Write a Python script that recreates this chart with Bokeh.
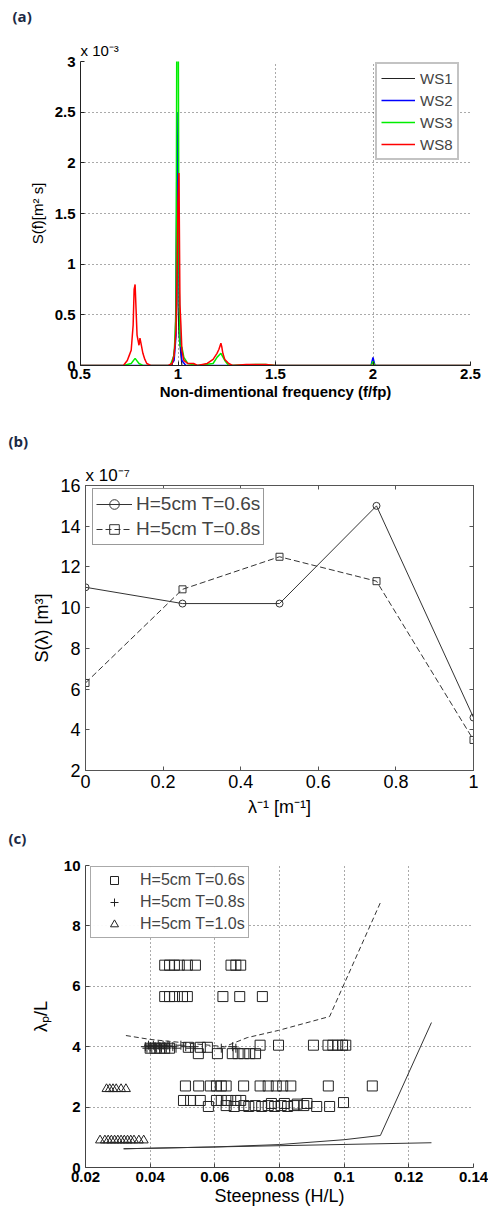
from bokeh.plotting import figure
from bokeh.models import Range1d, FixedTicker, Label, LinearAxis, CustomJSTickFormatter
from bokeh.embed import file_html
from bokeh.resources import INLINE

FONT = "Liberation Sans"
PANEL_FONT = "Open Sans"

# ---------------- Panel (a): spectra, S(f) in units of 1e-3 m^2 s ----------------
a_xticks = [0.5, 1.0, 1.5, 2.0, 2.5]
a_xlabels = ["0.5", "1", "1.5", "2", "2.5"]
a_yticks = [0, 0.5, 1.0, 1.5, 2.0, 2.5, 3.0]
a_ylabels = ["0", "0.5", "1", "1.5", "2", "2.5", "3"]

ws1_f = [0.50, 0.97, 0.985, 0.99, 0.995, 1.000, 1.005, 1.02, 1.99, 2.00, 2.01, 2.50]
ws1_s = [0.00, 0.00, 0.20, 0.80, 2.05, 0.60, 0.30, 0.00, 0.00, 0.03, 0.00, 0.00]

ws2_f = [0.50, 0.96, 0.98, 0.99, 0.995, 1.000, 1.005, 1.01, 1.02, 1.04, 1.99, 2.00, 2.01, 2.50]
ws2_s = [0.00, 0.00, 0.05, 0.30, 2.50, 1.40, 0.90, 0.30, 0.05, 0.00, 0.00, 0.08, 0.00, 0.00]

ws3_f = [0.50, 0.72, 0.76, 0.78, 0.80, 0.82, 0.96, 0.98, 0.99, 0.995, 1.000, 1.005, 1.01,
         1.02, 1.03, 1.05, 1.10, 1.18, 1.20, 1.22, 1.24, 1.26, 1.40, 1.45, 1.50, 1.99, 2.00, 2.01, 2.50]
ws3_s = [0.00, 0.00, 0.02, 0.07, 0.02, 0.00, 0.00, 0.10, 0.50, 4.20, 4.20, 1.00, 0.20,
         0.18, 0.08, 0.02, 0.00, 0.02, 0.08, 0.12, 0.05, 0.00, 0.01, 0.01, 0.00, 0.00, 0.04, 0.00, 0.00]

ws8_f = [0.50, 0.72, 0.74, 0.75, 0.76, 0.77, 0.775, 0.78, 0.785, 0.79, 0.80, 0.805, 0.81, 0.82,
         0.83, 0.84, 0.86, 0.95, 0.97, 0.98, 0.99, 0.995, 1.000, 1.005, 1.01, 1.015, 1.02, 1.03,
         1.05, 1.08, 1.10, 1.15, 1.18, 1.20, 1.21, 1.22, 1.225, 1.23, 1.24, 1.26, 1.28, 1.35,
         1.45, 1.50, 2.50]
ws8_s = [0.00, 0.00, 0.05, 0.10, 0.15, 0.40, 0.75, 0.80, 0.55, 0.30, 0.20, 0.27, 0.22, 0.12,
         0.06, 0.02, 0.00, 0.00, 0.02, 0.10, 0.35, 0.90, 1.60, 1.90, 0.60, 0.40, 0.15, 0.05,
         0.02, 0.02, 0.00, 0.02, 0.06, 0.12, 0.16, 0.22, 0.18, 0.12, 0.06, 0.02, 0.00, 0.01,
         0.01, 0.00, 0.00]

# ---------------- Panel (b): S(lambda) in units of 1e-7 m^3 ----------------
b_x = [0.0, 0.25, 0.5, 0.75, 1.0]
b_t06 = [11.0, 10.2, 10.2, 15.0, 4.6]
b_t08 = [6.3, 10.9, 12.5, 11.3, 3.5]
b_xticks = [0, 0.2, 0.4, 0.6, 0.8, 1.0]
b_xlabels = ["0", "0.2", "0.4", "0.6", "0.8", "1"]
b_yticks = [2, 4, 6, 8, 10, 12, 14, 16]
b_ylabels = ["2", "4", "6", "8", "10", "12", "14", "16"]

# ---------------- Panel (c): lambda_p/L vs steepness ----------------
c_xticks = [0.02, 0.04, 0.06, 0.08, 0.10, 0.12, 0.14]
c_xlabels = ["0.02", "0.04", "0.06", "0.08", "0.1", "0.12", "0.14"]
c_yticks = [0, 2, 4, 6, 8, 10]
c_ylabels = ["0", "2", "4", "6", "8", "10"]

sq_x = [0.0445, 0.046, 0.0475, 0.049, 0.0515, 0.054, 0.065, 0.0665, 0.068,
        0.0445, 0.046, 0.0475, 0.050, 0.0515, 0.0625, 0.0677, 0.0747,
        0.040, 0.0415, 0.043, 0.0445, 0.046, 0.0518, 0.0555, 0.0577,
        0.074, 0.0797, 0.0905, 0.095, 0.0965, 0.098, 0.0995, 0.1005,
        0.0549, 0.0608, 0.0654, 0.0672, 0.069, 0.0708, 0.0726,
        0.0509, 0.055, 0.0586, 0.0605, 0.062, 0.0635, 0.0689, 0.074, 0.0765, 0.079, 0.081, 0.0835, 0.0951, 0.1087,
        0.0503, 0.0525, 0.0555, 0.0605, 0.062, 0.064, 0.0665, 0.068,
        0.058, 0.0635, 0.066, 0.069, 0.0705, 0.0725, 0.0745, 0.0765, 0.0785, 0.0805, 0.0825, 0.0845, 0.0875, 0.0915, 0.0955,
        0.0775, 0.0815, 0.0855, 0.0885, 0.0998]
sq_y = [6.7, 6.7, 6.7, 6.7, 6.7, 6.7, 6.7, 6.7, 6.7,
        5.66, 5.66, 5.66, 5.66, 5.66, 5.66, 5.66, 5.66,
        3.95, 3.95, 3.95, 3.95, 3.95, 3.98, 3.98, 3.98,
        4.05, 4.05, 4.05, 4.05, 4.05, 4.05, 4.05, 4.05,
        3.77, 3.77, 3.77, 3.77, 3.77, 3.77, 3.77,
        2.7, 2.7, 2.7, 2.7, 2.7, 2.7, 2.7, 2.7, 2.7, 2.7, 2.7, 2.7, 2.7, 2.7,
        2.22, 2.22, 2.22, 2.22, 2.22, 2.22, 2.22, 2.22,
        2.02, 2.05, 2.02, 2.05, 2.02, 2.05, 2.02, 2.05, 2.02, 2.05, 2.02, 2.05, 2.05, 2.02, 2.02,
        2.12, 2.12, 2.1, 2.12, 2.15]

plus_x = [0.0385, 0.039, 0.0395, 0.040, 0.0405, 0.041, 0.0415, 0.042, 0.0425, 0.043, 0.0435,
          0.044, 0.0445, 0.045, 0.0455, 0.046, 0.047, 0.048, 0.0495, 0.051, 0.0525, 0.0535,
          0.062, 0.0655, 0.0665]
plus_y = [4.0, 3.95, 4.05, 4.0, 3.95, 4.05, 4.0, 3.95, 4.05, 4.0, 3.95,
          4.05, 4.0, 3.95, 4.05, 4.0, 4.0, 3.95, 4.05, 4.0, 3.95, 4.0,
          3.95, 4.0, 3.95]

tri_x = [0.0265, 0.0275, 0.0285, 0.0295, 0.031, 0.0325,
         0.0245, 0.026, 0.027, 0.028, 0.029, 0.030, 0.031, 0.032, 0.033, 0.034, 0.035, 0.0365, 0.038]
tri_y = [2.6, 2.6, 2.6, 2.6, 2.6, 2.6,
         0.9, 0.9, 0.9, 0.9, 0.9, 0.9, 0.9, 0.9, 0.9, 0.9, 0.9, 0.9, 0.9]

dash_x = [0.0325, 0.040, 0.063, 0.070, 0.0797, 0.0955, 0.1112]
dash_y = [4.37, 4.24, 4.00, 4.30, 4.54, 5.00, 8.77]

solid1_x = [0.0318, 0.060, 0.127]
solid1_y = [0.62, 0.68, 0.82]
solid2_x = [0.0318, 0.060, 0.080, 0.100, 0.1112, 0.127]
solid2_y = [0.62, 0.68, 0.76, 0.92, 1.06, 4.80]


def style_axes(p, xticks, xlabels, yticks, ylabels, tick_size, bold, axis_color):
    p.xaxis.ticker = FixedTicker(ticks=xticks)
    p.yaxis.ticker = FixedTicker(ticks=yticks)
    p.xaxis.major_label_overrides = {t: l for t, l in zip(xticks, xlabels)}
    p.yaxis.major_label_overrides = {t: l for t, l in zip(yticks, ylabels)}
    for ax in (p.xaxis[0], p.yaxis[0]):
        ax.major_label_text_font = FONT
        ax.major_label_text_font_size = tick_size
        ax.major_label_text_font_style = "bold" if bold else "normal"
        ax.major_label_text_color = "black"
        ax.axis_label_text_font = FONT
        ax.axis_label_text_font_style = "normal"
        ax.axis_label_text_color = "black"
        ax.axis_line_color = axis_color
        ax.major_tick_line_color = axis_color
        ax.major_tick_in = 4
        ax.major_tick_out = 0
        ax.minor_tick_in = 0
        ax.minor_tick_out = 0


def exponent_title(p, text, size, standoff):
    p.title.text = text
    p.title.align = "left"
    p.title.offset = 0
    p.title.vertical_align = "bottom"
    p.title.standoff = standoff
    p.title.text_font = FONT
    p.title.text_font_style = "normal"
    p.title.text_font_size = size
    p.title.text_color = "black"


def header(height):
    h = figure(width=488, height=height, output_backend="svg", toolbar_location=None,
               x_range=Range1d(0, 488), y_range=Range1d(height, 0),
               x_axis_type=None, y_axis_type=None)
    h.min_border = 0
    h.min_border_left = 0
    h.min_border_right = 0
    h.min_border_top = 0
    h.min_border_bottom = 0
    h.outline_line_color = None
    return h


def panel_tag(h, text, x, y):
    h.add_layout(Label(x=x, y=y, text=text, text_font=PANEL_FONT, text_font_style="bold",
                       text_font_size="15px", text_color="#1c2a45",
                       text_baseline="middle", text_align="left"))


# ======================= header (a) =======================
ha = header(36)
panel_tag(ha, "(a)", 12, 15)

# ======================= (a) =======================
pa = figure(width=488, height=384, output_backend="svg", toolbar_location=None,
            x_range=Range1d(0.5, 2.5), y_range=Range1d(0, 3))
pa.min_border = 0
pa.min_border_left = 80
pa.min_border_right = 18
pa.min_border_top = 25
pa.min_border_bottom = 55
pa.outline_line_color = None
exponent_title(pa, "x 10⁻³", "15px", 6)
style_axes(pa, a_xticks, a_xlabels, a_yticks, a_ylabels, "15px", True, "#222222")
pa.xaxis.axis_label = "Non-dimentional frequency (f/fp)"
pa.xaxis.axis_label_text_font_size = "15px"
pa.xaxis.axis_label_text_font_style = "bold"
pa.xaxis.major_label_standoff = 3
pa.xaxis.axis_label_standoff = 1
pa.yaxis.axis_label = "S(f)[m² s]"
pa.yaxis.axis_label_text_font_size = "15px"
pa.yaxis.major_label_standoff = 5
pa.yaxis.axis_label_standoff = 6
for g in (pa.xgrid, pa.ygrid):
    g.grid_line_color = "#555555"
    g.grid_line_dash = "1 3"
    g.grid_line_width = 1

pa.line(ws1_f, ws1_s, line_color="#222222", line_width=1.2, legend_label="WS1")
pa.line(ws2_f, ws2_s, line_color="#0000ff", line_width=1.5, legend_label="WS2")
pa.line(ws3_f, ws3_s, line_color="#00ee00", line_width=1.5, legend_label="WS3")
pa.line(ws8_f, ws8_s, line_color="#ff0000", line_width=1.5, legend_label="WS8")
lg = pa.legend[0]
lg.location = (295, 205)
lg.margin = 0
lg.padding = 4
lg.spacing = 2
lg.glyph_width = 34
lg.glyph_height = 20
lg.label_height = 20
lg.label_standoff = 5
lg.label_text_font = FONT
lg.label_text_font_size = "15px"
lg.border_line_color = "#888888"
lg.border_line_width = 2
lg.background_fill_alpha = 1

# ======================= header (b) =======================
hb = header(35)
panel_tag(hb, "(b)", 8, 20)

# ======================= (b) =======================
pb = figure(width=488, height=371, output_backend="svg", toolbar_location=None,
            x_range=Range1d(0, 1), y_range=Range1d(2, 16))
pb.min_border = 0
pb.min_border_left = 85
pb.min_border_right = 15
pb.min_border_top = 30
pb.min_border_bottom = 56
pb.outline_line_color = "#555555"
pb.xgrid.visible = False
pb.ygrid.visible = False
style_axes(pb, b_xticks, b_xlabels, b_yticks, b_ylabels, "18px", False, "#555555")
pb.xaxis.axis_label = "λ⁻¹ [m⁻¹]"
pb.xaxis.axis_label_text_font_size = "18px"
pb.xaxis.major_label_standoff = 4
pb.xaxis.axis_label_standoff = 6
pb.yaxis.axis_label = "S(λ) [m³]"
pb.yaxis.axis_label_text_font_size = "18px"
pb.yaxis.major_label_standoff = 5
pb.yaxis.axis_label_standoff = 5
blank = CustomJSTickFormatter(code="return ''")
rax = LinearAxis(ticker=FixedTicker(ticks=b_yticks), formatter=blank, major_tick_in=4,
                 major_tick_out=0, minor_tick_in=0, minor_tick_out=0, major_label_standoff=0,
                 major_label_text_font_size="0px",
                 axis_line_color="#555555", major_tick_line_color="#555555")
tax = LinearAxis(ticker=FixedTicker(ticks=b_xticks), formatter=blank, major_tick_in=4,
                 major_tick_out=0, minor_tick_in=0, minor_tick_out=0, major_label_standoff=0,
                 major_label_text_font_size="0px",
                 axis_line_color="#555555", major_tick_line_color="#555555")
pb.add_layout(rax, "right")
pb.add_layout(tax, "above")
exponent_title(pb, "x 10⁻⁷", "17px", 2)

pb.line(b_x, b_t06, line_color="#333333", line_width=1, legend_label="H=5cm T=0.6s")
pb.scatter(b_x, b_t06, marker="circle", size=7, fill_color=None, line_color="#333333",
           legend_label="H=5cm T=0.6s")
pb.line(b_x, b_t08, line_color="#333333", line_width=1, line_dash="6 3", legend_label="H=5cm T=0.8s")
pb.scatter(b_x, b_t08, marker="square", size=7, fill_color=None, line_color="#333333",
           legend_label="H=5cm T=0.8s")
lg = pb.legend[0]
lg.location = (7, 225)
lg.margin = 0
lg.padding = 3
lg.spacing = 1
lg.glyph_width = 36
lg.glyph_height = 24
lg.label_height = 24
lg.label_standoff = 4
lg.label_text_font = FONT
lg.label_text_font_size = "19px"
lg.border_line_color = "#333333"
lg.border_line_width = 1

# ======================= header (c) =======================
hc = header(24)
panel_tag(hc, "(c)", 8, 11)

# ======================= (c) =======================
pc = figure(width=488, height=365, output_backend="svg", toolbar_location=None,
            x_range=Range1d(0.02, 0.14), y_range=Range1d(0, 10))
pc.min_border = 0
pc.min_border_left = 85
pc.min_border_right = 15
pc.min_border_top = 15
pc.min_border_bottom = 48
pc.outline_line_color = None
style_axes(pc, c_xticks, c_xlabels, c_yticks, c_ylabels, "15px", True, "#444444")
pc.xaxis.axis_label = "Steepness (H/L)"
pc.xaxis.axis_label_text_font_size = "18px"
pc.xaxis.major_label_standoff = 4
pc.xaxis.axis_label_standoff = 1
pc.yaxis.axis_label = "λₚ/L"
pc.yaxis.axis_label_text_font_size = "18px"
pc.yaxis.major_label_standoff = 5
pc.yaxis.axis_label_standoff = 10
for g in (pc.xgrid, pc.ygrid):
    g.grid_line_color = "#555555"
    g.grid_line_dash = "1 3"
    g.grid_line_width = 1

pc.line(dash_x, dash_y, line_color="#333333", line_width=1, line_dash="5 3")
pc.line(solid1_x, solid1_y, line_color="#333333", line_width=1)
pc.line(solid2_x, solid2_y, line_color="#333333", line_width=1)
pc.scatter(sq_x, sq_y, marker="square", size=10, fill_color=None, line_color="#222222",
           legend_label="H=5cm T=0.6s")
pc.scatter(plus_x, plus_y, marker="cross", size=9, line_color="#222222",
           legend_label="H=5cm T=0.8s")
pc.scatter(tri_x, tri_y, marker="triangle", size=9, fill_color=None, line_color="#222222",
           legend_label="H=5cm T=1.0s")
lg = pc.legend[0]
lg.location = (5, 229)
lg.margin = 0
lg.padding = 3
lg.spacing = 2
lg.glyph_width = 40
lg.glyph_height = 20
lg.label_height = 20
lg.label_standoff = 6
lg.label_text_font = FONT
lg.label_text_font_size = "16px"
lg.border_line_color = "#555555"
lg.border_line_width = 1

roots = [ha, pa, hb, pb, hc, pc]
open("out.html", "w").write(file_html(roots, INLINE))
